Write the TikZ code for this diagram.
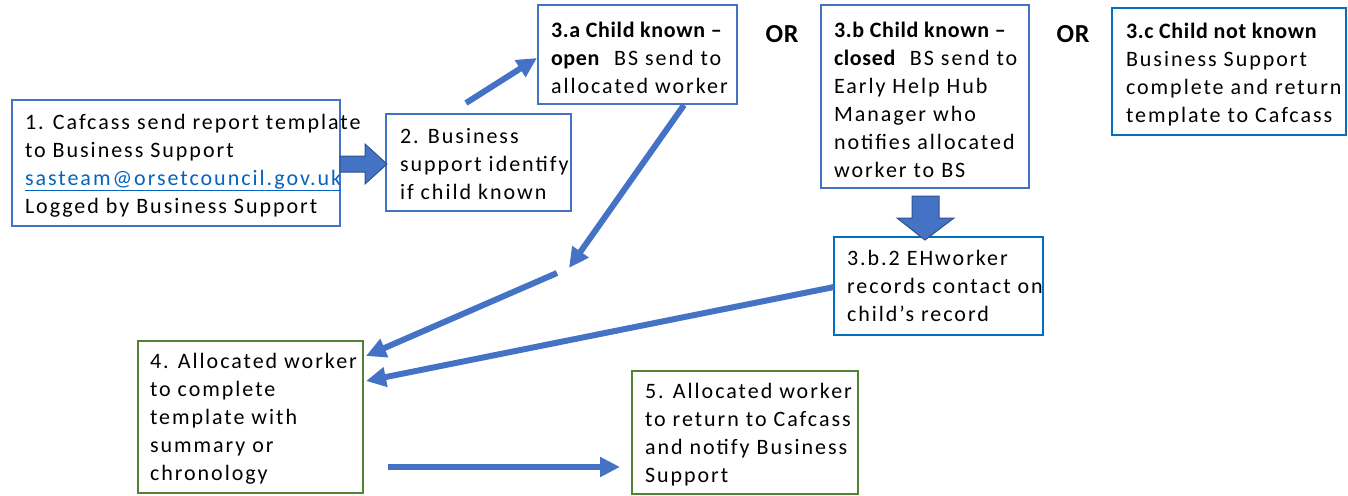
\documentclass[tikz,border=0pt]{standalone}
\usepackage{fontspec}
\setmainfont{Carlito}[LetterSpace=9, BoldFeatures={LetterSpace=3}]
\usetikzlibrary{arrows.meta}
\definecolor{boxblue}{HTML}{4472C4}
\definecolor{brightblue}{HTML}{0070C0}
\definecolor{boxgreen}{HTML}{548235}
\definecolor{arrowblue}{HTML}{4472C4}
\definecolor{arrowedge}{HTML}{2F528F}
\definecolor{linkblue}{HTML}{0563C1}

\begin{document}
\begin{tikzpicture}[x=1pt,y=-1pt,
  stepbox/.style={draw=boxblue, line width=2.2pt, fill=white, inner sep=0pt, outer sep=0pt},
  brightbox/.style={stepbox, draw=brightblue},
  greenbox/.style={stepbox, draw=boxgreen},
  boxtext/.style={anchor=north west, inner sep=0pt, outer sep=0pt, align=left,
    font=\fontsize{22}{28}\selectfont},
  flow/.style={draw=arrowblue, line width=6pt, -{Triangle[length=20pt,width=19pt]}},
  blockarrow/.style={fill=arrowblue, draw=arrowedge, line width=1pt, line join=miter},
  orlabel/.style={font=\fontsize{26}{30}\selectfont\bfseries, anchor=base, inner sep=0pt}
]
\useasboundingbox (0,0) rectangle (1348,495);

% process boxes
\node[stepbox, minimum width=328, minimum height=126] (b1) at (176,163) {};
\node[stepbox, minimum width=185, minimum height=97] (b2) at (478.5,162.5) {};
\node[stepbox, minimum width=199, minimum height=99] (b3a) at (637.5,54.5) {};
\node[stepbox, minimum width=208, minimum height=183] (b3b) at (925,96.5) {};
\node[brightbox, minimum width=234, minimum height=127] (b3c) at (1229,71.5) {};
\node[brightbox, minimum width=209, minimum height=98] (b3b2) at (938.5,286) {};
\node[greenbox, minimum width=225, minimum height=152] (b4) at (250.5,417) {};
\node[greenbox, minimum width=226, minimum height=123] (b5) at (745,432.5) {};

% box texts
\node[boxtext] (t1) at ([shift={(13,9.4)}]b1.north west)
  {\strut 1. Cafcass send report template\\to Business Support\\
   {\color{linkblue}\underline{sasteam@orsetcouncil.gov.uk}}\\Logged by Business Support};
\node[boxtext] (t2) at ([shift={(14,9.4)}]b2.north west)
  {\strut 2. Business\\support identify\\if child known};
\node[boxtext] (t3a) at ([shift={(13,12.4)}]b3a.north west)
  {\strut\textbf{3.a Child known –}\\\textbf{open}\ \ BS send to\\allocated worker};
\node[boxtext] (t3b) at ([shift={(13,12.4)}]b3b.north west)
  {\strut\textbf{3.b Child known –}\\\textbf{closed}\ \ BS send to\\Early Help Hub\\Manager who\\notifies allocated\\worker to BS};
\node[boxtext] (t3c) at ([shift={(14,10.4)}]b3c.north west)
  {\strut\textbf{3.c Child not known}\\Business Support\\complete and return\\template to Cafcass};
\node[boxtext] (t3b2) at ([shift={(13,8.4)}]b3b2.north west)
  {\strut 3.b.2 EHworker\\records contact on\\child’s record};
\node[boxtext] (t4) at ([shift={(12,7.4)}]b4.north west)
  {\strut 4. Allocated worker\\to complete\\template with\\summary or\\chronology};
\node[boxtext] (t5) at ([shift={(13,7.4)}]b5.north west)
  {\strut 5. Allocated worker\\to return to Cafcass\\and notify Business\\Support};

% alternatives
\node[orlabel] (or1) at (782,42) {OR};
\node[orlabel] (or2) at (1073,42) {OR};

% block arrows
\draw[blockarrow] ([shift={(0,-7)}]b1.east) -- ++(25,0) -- ++(0,-12)
  -- ([shift={(1,1.5)}]b2.west) -- ++(-22,20) -- ++(0,-12) -- ++(-25,0) -- cycle;
\draw[blockarrow] ([shift={(-13,8)}]b3b.south) -- ++(27,0) -- ++(0,22) -- ++(15,0)
  -- ([shift={(-13.5,3)}]b3b2.north) -- ++(-28,-22) -- ++(15,0) -- cycle;

% connectors
\coordinate (m1) at (569,268);
\coordinate (m2) at (557,273);
\draw[flow] ([shift={(-12.5,-11)}]b2.north) -- ([shift={(-1,3.5)}]b3a.west);
\draw[flow] ([shift={(46.5,1)}]b3a.south) -- (m1);
\draw[flow] (m2) -- ([shift={(3,15)}]b4.north east);
\draw[flow] ([shift={(0,1)}]b3b2.west) -- ([shift={(3,40)}]b4.north east);
\draw[flow] ([shift={(25,50)}]b4.east) -- ([shift={(-12,34.5)}]b5.west);
\end{tikzpicture}
\end{document}
